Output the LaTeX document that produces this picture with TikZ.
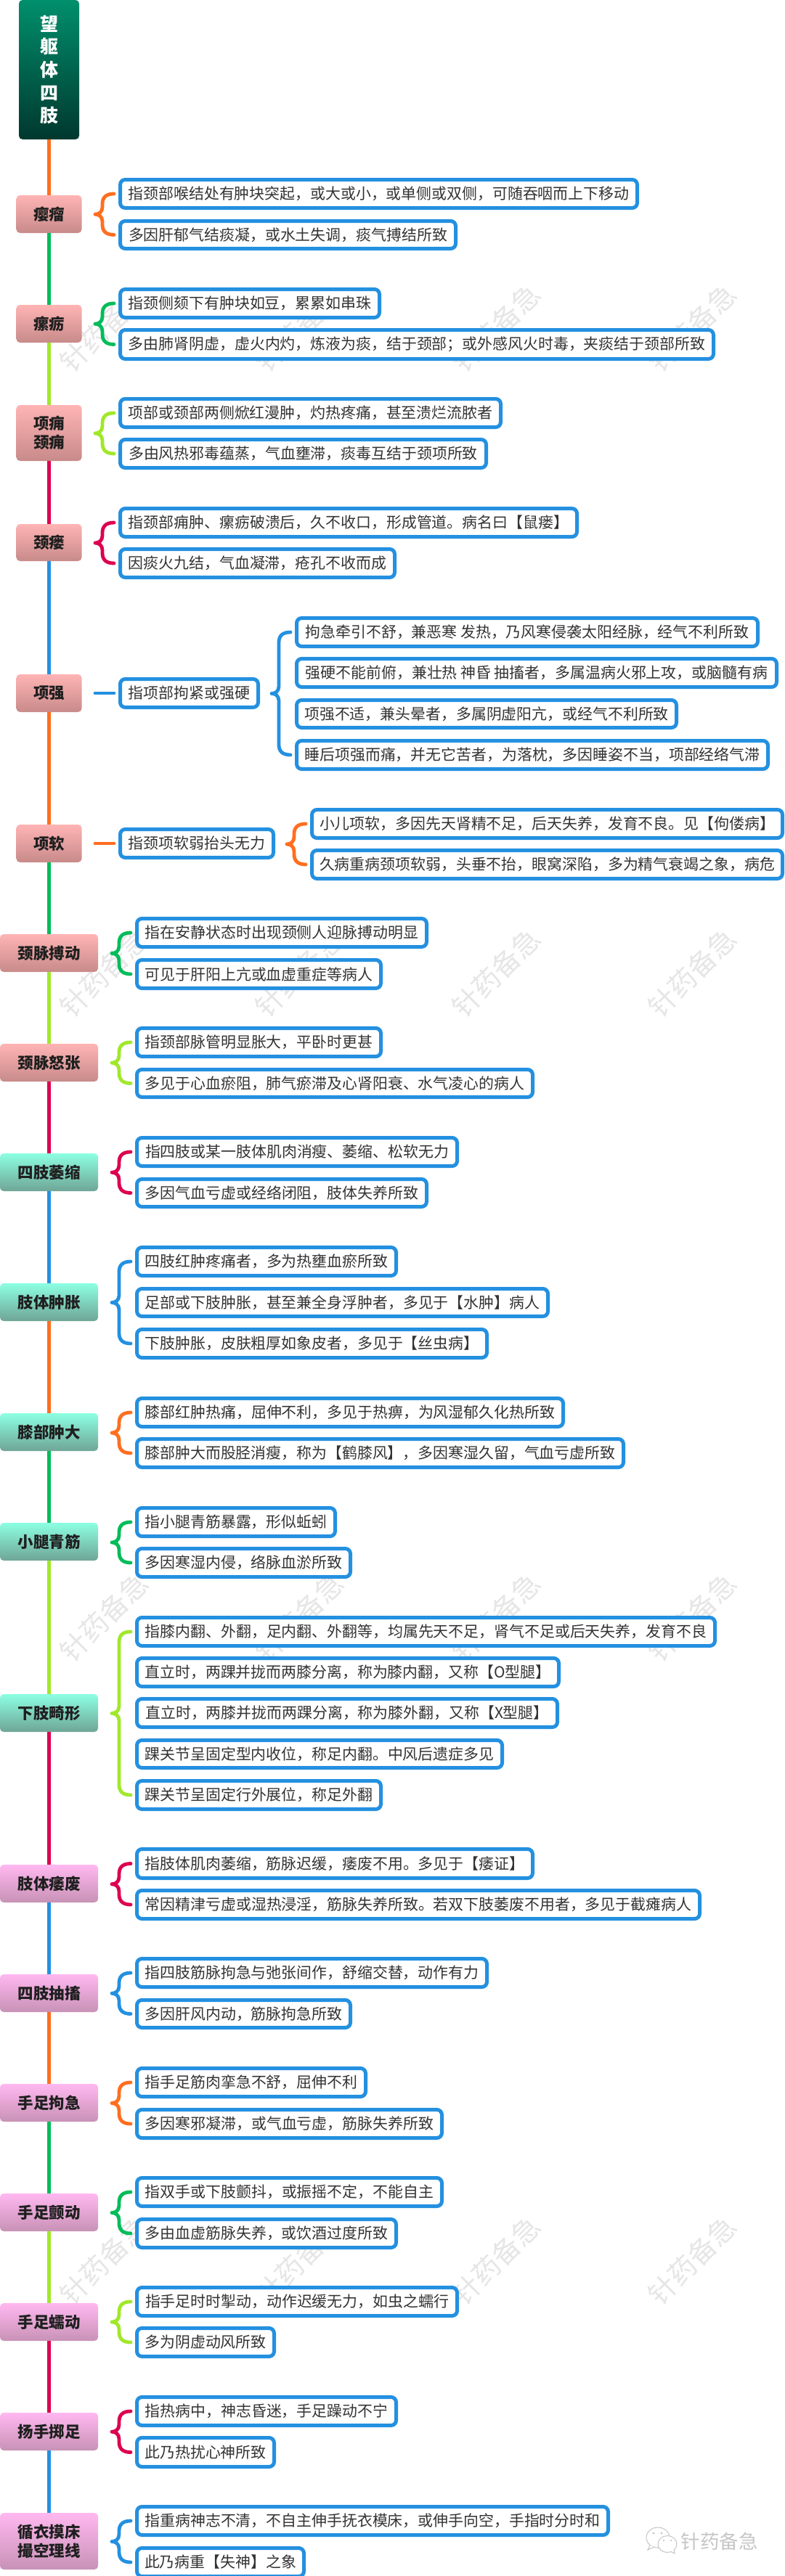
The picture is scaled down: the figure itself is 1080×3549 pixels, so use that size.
\documentclass[tikz,border=0pt]{standalone}
\usepackage{fontspec}
\setmainfont{Noto Sans CJK SC}
\usetikzlibrary{calc,shapes.geometric}
\definecolor{cOrange}{HTML}{FF6E1F}
\definecolor{cGreen}{HTML}{00BC5A}
\definecolor{cLime}{HTML}{A0E82A}
\definecolor{cCrimson}{HTML}{DC0050}
\definecolor{cBlue}{HTML}{2490E0}
\definecolor{cText}{HTML}{333333}
\definecolor{cMark}{HTML}{E6E6E6}
\definecolor{cLogo}{HTML}{C6C6C6}
\tikzset{
  x=1pt,y=-1pt,
  detail/.style={draw=cBlue,fill=white,line width=5pt,rounded corners=7pt,inner sep=0pt,outer sep=0pt,
    text=cText,font=\fontsize{20.9}{25}\selectfont},
  topic/.style={rounded corners=5pt,inner sep=0pt,outer sep=0pt,align=center,text=black!88,
    font=\fontsize{21.5}{25.5}\selectfont\bfseries},
  rose/.style={topic,top color=cRoseA,bottom color=cRoseB},
  teal/.style={topic,top color=cTealA,bottom color=cTealB},
  mauve/.style={topic,top color=cMauveA,bottom color=cMauveB},
  rootbox/.style={rounded corners=5pt,inner sep=0pt,outer sep=0pt,align=center,text=white,
    top color=cRootA,bottom color=cRootB,font=\fontsize{25}{31.6}\selectfont\bfseries},
  spine/.style={line width=4.8pt},
  linkbrace/.style={line width=4.8pt,line cap=round,line join=round},
  wmark/.style={text=cMark,rotate=45,inner sep=0pt,font=\fontsize{38}{38}\selectfont},
}
\definecolor{cRoseA}{HTML}{FFB4B4}
\definecolor{cRoseB}{HTML}{C88A8A}
\definecolor{cTealA}{HTML}{8CFFE2}
\definecolor{cTealB}{HTML}{6FA596}
\definecolor{cMauveA}{HTML}{FFB8F0}
\definecolor{cMauveB}{HTML}{C892B6}
\definecolor{cRootA}{HTML}{008F6C}
\definecolor{cRootB}{HTML}{00382E}
% detail box: name, x0, x1, y0, y1, text (outer edges)
\newcommand{\tb}[6]{\node[detail,minimum width={(#3-#2-5)*1pt},minimum height={(#5-#4-5)*1pt}] (#1) at ({(#2+#3)/2},{(#4+#5)/2}) {#6};}
% topic node: style, name, x half width, y0, y1, text
\newcommand{\tp}[6]{\node[#1,minimum width={#3*2pt},minimum height={(#5-#4)*1pt}] (#2) at ({67.5},{(#4+#5)/2}) {#6};}
% brace: colour, top child, bottom child
\newcommand{\bracelink}[3]{%
  \path (#2.west) ++(-8.5,0) coordinate (bt) (#3.west) ++(-8.5,0) coordinate (bb);
  \coordinate (bm) at ($(bt)!.5!(bb)$);
  \draw[linkbrace,#1] (bt) .. controls +(-11,0) and +(0,-9) .. ($(bt)+(-16,14)$)
    -- ($(bm)+(-16,-10)$) .. controls +(0,7) and +(5,0) .. ($(bm)+(-26,0)$)
    .. controls +(5,0) and +(0,-7) .. ($(bm)+(-16,10)$)
    -- ($(bb)+(-16,-14)$) .. controls +(0,9) and +(-11,0) .. (bb);
}
\newcommand{\dashlink}[2]{\draw[linkbrace,#1] ($(#2.west)+(-34.5,0)$) -- ($(#2.west)+(-8.5,0)$);}
\newcommand{\seg}[3]{\draw[spine,#1] (#2.south) -- (#3.north);}
\begin{document}
\begin{tikzpicture}
\useasboundingbox (0,0) rectangle (1080,3549);
\fill[white] (0,0) rectangle (1080,3549);
% watermarks
\foreach \wy [count=\ri] in {452,1340,2228,3114}{
  \foreach \wx [count=\ci] in {143,412,683,953}{
    \node[wmark] (wm\ri\ci) at (\wx,\wy) {针药备急};
  }
}
% root and topics
\node[rootbox,minimum width=83pt,minimum height=192pt] (root) at (67.5,96) {望\\躯\\体\\四\\肢};
\tp{rose}{n1}{45}{269}{321}{瘿瘤}
\tp{rose}{n2}{45}{420}{472}{瘰疬}
\tp{rose}{n3}{45}{558}{635}{项痈\\颈痈}
\tp{rose}{n4}{45}{722}{773}{颈瘘}
\tp{rose}{n5}{45}{929}{981}{项强}
\tp{rose}{n6}{45}{1136}{1188}{项软}
\tp{rose}{n7}{67.5}{1287}{1339}{颈脉搏动}
\tp{rose}{n8}{67.5}{1438}{1490}{颈脉怒张}
\tp{teal}{n9}{67.5}{1589}{1641}{四肢萎缩}
\tp{teal}{n10}{67.5}{1768}{1820}{肢体肿胀}
\tp{teal}{n11}{67.5}{1947}{1999}{膝部肿大}
\tp{teal}{n12}{67.5}{2098}{2150}{小腿青筋}
\tp{teal}{n13}{67.5}{2334}{2386}{下肢畸形}
\tp{mauve}{n14}{67.5}{2569}{2621}{肢体痿废}
\tp{mauve}{n15}{67.5}{2720}{2772}{四肢抽搐}
\tp{mauve}{n16}{67.5}{2871}{2923}{手足拘急}
\tp{mauve}{n17}{67.5}{3022}{3074}{手足颤动}
\tp{mauve}{n18}{67.5}{3173}{3225}{手足蠕动}
\tp{mauve}{n19}{67.5}{3324}{3376}{扬手掷足}
\tp{mauve}{n20}{67.5}{3462}{3540}{循衣摸床\\撮空理线}
% spine
\seg{cOrange}{root}{n1}
\seg{cGreen}{n1}{n2}
\seg{cLime}{n2}{n3}
\seg{cCrimson}{n3}{n4}
\seg{cBlue}{n4}{n5}
\seg{cOrange}{n5}{n6}
\seg{cGreen}{n6}{n7}
\seg{cLime}{n7}{n8}
\seg{cCrimson}{n8}{n9}
\seg{cBlue}{n9}{n10}
\seg{cOrange}{n10}{n11}
\seg{cGreen}{n11}{n12}
\seg{cLime}{n12}{n13}
\seg{cCrimson}{n13}{n14}
\seg{cBlue}{n14}{n15}
\seg{cOrange}{n15}{n16}
\seg{cGreen}{n16}{n17}
\seg{cLime}{n17}{n18}
\seg{cCrimson}{n18}{n19}
\seg{cBlue}{n19}{n20}
% details
\tb{a1}{163}{880}{245}{289}{指颈部喉结处有肿块突起，或大或小，或单侧或双侧，可随吞咽而上下移动}
\tb{a2}{163}{630}{302}{345}{多因肝郁气结痰凝，或水土失调，痰气搏结所致}
\bracelink{cOrange}{a1}{a2}
\tb{b1}{163}{525}{396}{440}{指颈侧颏下有肿块如豆，累累如串珠}
\tb{b2}{163}{985}{452}{497}{多由肺肾阴虚，虚火内灼，炼液为痰，结于颈部；或外感风火时毒，夹痰结于颈部所致}
\bracelink{cGreen}{b1}{b2}
\tb{c1}{163}{692}{547}{591}{项部或颈部两侧焮红漫肿，灼热疼痛，甚至溃烂流脓者}
\tb{c2}{163}{672}{603}{647}{多由风热邪毒蕴蒸，气血壅滞，痰毒互结于颈项所致}
\bracelink{cLime}{c1}{c2}
\tb{d1}{163}{797}{698}{742}{指颈部痈肿、瘰疬破溃后，久不收口，形成管道。病名曰【鼠瘘】}
\tb{d2}{163}{546}{754}{798}{因痰火九结，气血凝滞，疮孔不收而成}
\bracelink{cCrimson}{d1}{d2}
\tb{e0}{163}{358}{933}{977}{指项部拘紧或强硬}
\dashlink{cBlue}{e0}
\tb{e1}{406}{1046}{849}{893}{拘急牵引不舒，兼恶寒 发热，乃风寒侵袭太阳经脉，经气不利所致}
\tb{e2}{406}{1072}{905}{949}{强硬不能前俯，兼壮热 神昏 抽搐者，多属温病火邪上攻，或脑髓有病}
\tb{e3}{406}{934}{962}{1005}{项强不适，兼头晕者，多属阴虚阳亢，或经气不利所致}
\tb{e4}{406}{1060}{1018}{1062}{睡后项强而痛，并无它苦者，为落枕，多因睡姿不当，项部经络气滞}
\bracelink{cBlue}{e1}{e4}
\tb{f0}{163}{379}{1140}{1184}{指颈项软弱抬头无力}
\dashlink{cOrange}{f0}
\tb{f1}{427}{1080}{1113}{1157}{小儿项软，多因先天肾精不足，后天失养，发育不良。见【佝偻病】}
\tb{f2}{427}{1080}{1169}{1213}{久病重病颈项软弱，头垂不抬，眼窝深陷，多为精气衰竭之象，病危}
\bracelink{cOrange}{f1}{f2}
\tb{g1}{186}{590}{1263}{1307}{指在安静状态时出现颈侧人迎脉搏动明显}
\tb{g2}{186}{527}{1320}{1364}{可见于肝阳上亢或血虚重症等病人}
\bracelink{cGreen}{g1}{g2}
\tb{h1}{186}{527}{1414}{1458}{指颈部脉管明显胀大，平卧时更甚}
\tb{h2}{186}{736}{1471}{1514}{多见于心血瘀阻，肺气瘀滞及心肾阳衰、水气凌心的病人}
\bracelink{cLime}{h1}{h2}
\tb{i1}{186}{632}{1565}{1609}{指四肢或某一肢体肌肉消瘦、萎缩、松软无力}
\tb{i2}{186}{590}{1622}{1665}{多因气血亏虚或经络闭阻，肢体失养所致}
\bracelink{cCrimson}{i1}{i2}
\tb{j1}{186}{548}{1716}{1760}{四肢红肿疼痛者，多为热壅血瘀所致}
\tb{j2}{186}{757}{1773}{1816}{足部或下肢肿胀，甚至兼全身浮肿者，多见于【水肿】病人}
\tb{j3}{186}{673}{1829}{1873}{下肢肿胀，皮肤粗厚如象皮者，多见于【丝虫病】}
\bracelink{cBlue}{j1}{j3}
\tb{k1}{186}{778}{1924}{1968}{膝部红肿热痛，屈伸不利，多见于热痹，为风湿郁久化热所致}
\tb{k2}{186}{861}{1980}{2024}{膝部肿大而股胫消瘦，称为【鹤膝风】，多因寒湿久留，气血亏虚所致}
\bracelink{cOrange}{k1}{k2}
\tb{l1}{186}{464}{2075}{2119}{指小腿青筋暴露，形似蚯蚓}
\tb{l2}{186}{485}{2131}{2175}{多因寒湿内侵，络脉血淤所致}
\bracelink{cGreen}{l1}{l2}
\tb{m1}{186}{987}{2226}{2270}{指膝内翻、外翻，足内翻、外翻等，均属先天不足，肾气不足或后天失养，发育不良}
\tb{m2}{186}{772}{2282}{2326}{直立时，两踝并拢而两膝分离，称为膝内翻，又称【O型腿】}
\tb{m3}{186}{770}{2338}{2382}{直立时，两膝并拢而两踝分离，称为膝外翻，又称【X型腿】}
\tb{m4}{186}{694}{2395}{2438}{踝关节呈固定型内收位，称足内翻。中风后遗症多见}
\tb{m5}{186}{527}{2451}{2495}{踝关节呈固定行外展位，称足外翻}
\bracelink{cLime}{m1}{m5}
\tb{o1}{186}{736}{2545}{2590}{指肢体肌肉萎缩，筋脉迟缓，痿废不用。多见于【痿证】}
\tb{o2}{186}{966}{2602}{2646}{常因精津亏虚或湿热浸淫，筋脉失养所致。若双下肢萎废不用者，多见于截瘫病人}
\bracelink{cCrimson}{o1}{o2}
\tb{p1}{186}{673}{2696}{2740}{指四肢筋脉拘急与弛张间作，舒缩交替，动作有力}
\tb{p2}{186}{485}{2753}{2796}{多因肝风内动，筋脉拘急所致}
\bracelink{cBlue}{p1}{p2}
\tb{q1}{186}{506}{2847}{2891}{指手足筋肉挛急不舒，屈伸不利}
\tb{q2}{186}{611}{2904}{2948}{多因寒邪凝滞，或气血亏虚，筋脉失养所致}
\bracelink{cOrange}{q1}{q2}
\tb{r1}{186}{611}{2998}{3042}{指双手或下肢颤抖，或振摇不定，不能自主}
\tb{r2}{186}{548}{3055}{3099}{多由血虚筋脉失养，或饮酒过度所致}
\bracelink{cGreen}{r1}{r2}
\tb{s1}{186}{632}{3149}{3193}{指手足时时掣动，动作迟缓无力，如虫之蠕行}
\tb{s2}{186}{380}{3205}{3249}{多为阴虚动风所致}
\bracelink{cLime}{s1}{s2}
\tb{t1}{186}{548}{3300}{3344}{指热病中，神志昏迷，手足躁动不宁}
\tb{t2}{186}{380}{3356}{3401}{此乃热扰心神所致}
\bracelink{cCrimson}{t1}{t2}
\tb{u1}{186}{840}{3451}{3495}{指重病神志不清，不自主伸手抚衣模床，或伸手向空，手指时分时和}
\tb{u2}{186}{421}{3508}{3552}{此乃病重【失神】之象}
\bracelink{cBlue}{u1}{u2}
% logo
\draw[cLogo,line width=1pt,fill=white] (906,3496) ellipse (16 and 14);
\draw[cLogo,line width=1pt,fill=white] (895,3507) -- (892,3513) -- (901,3509);
\fill[cLogo] (900,3490) circle (1.6) (911,3490) circle (1.6);
\draw[cLogo,line width=1pt,fill=white] (919,3505) ellipse (13 and 11.5);
\draw[cLogo,line width=1pt,fill=white] (923,3515) -- (929,3518) -- (928,3512);
\fill[cLogo] (914,3500) circle (1.3) (924,3500) circle (1.3);
\node[text=cLogo,inner sep=0pt,font=\fontsize{26.5}{26.5}\selectfont] (logotext) at (990.5,3501) {针药备急};
\end{tikzpicture}
\end{document}
